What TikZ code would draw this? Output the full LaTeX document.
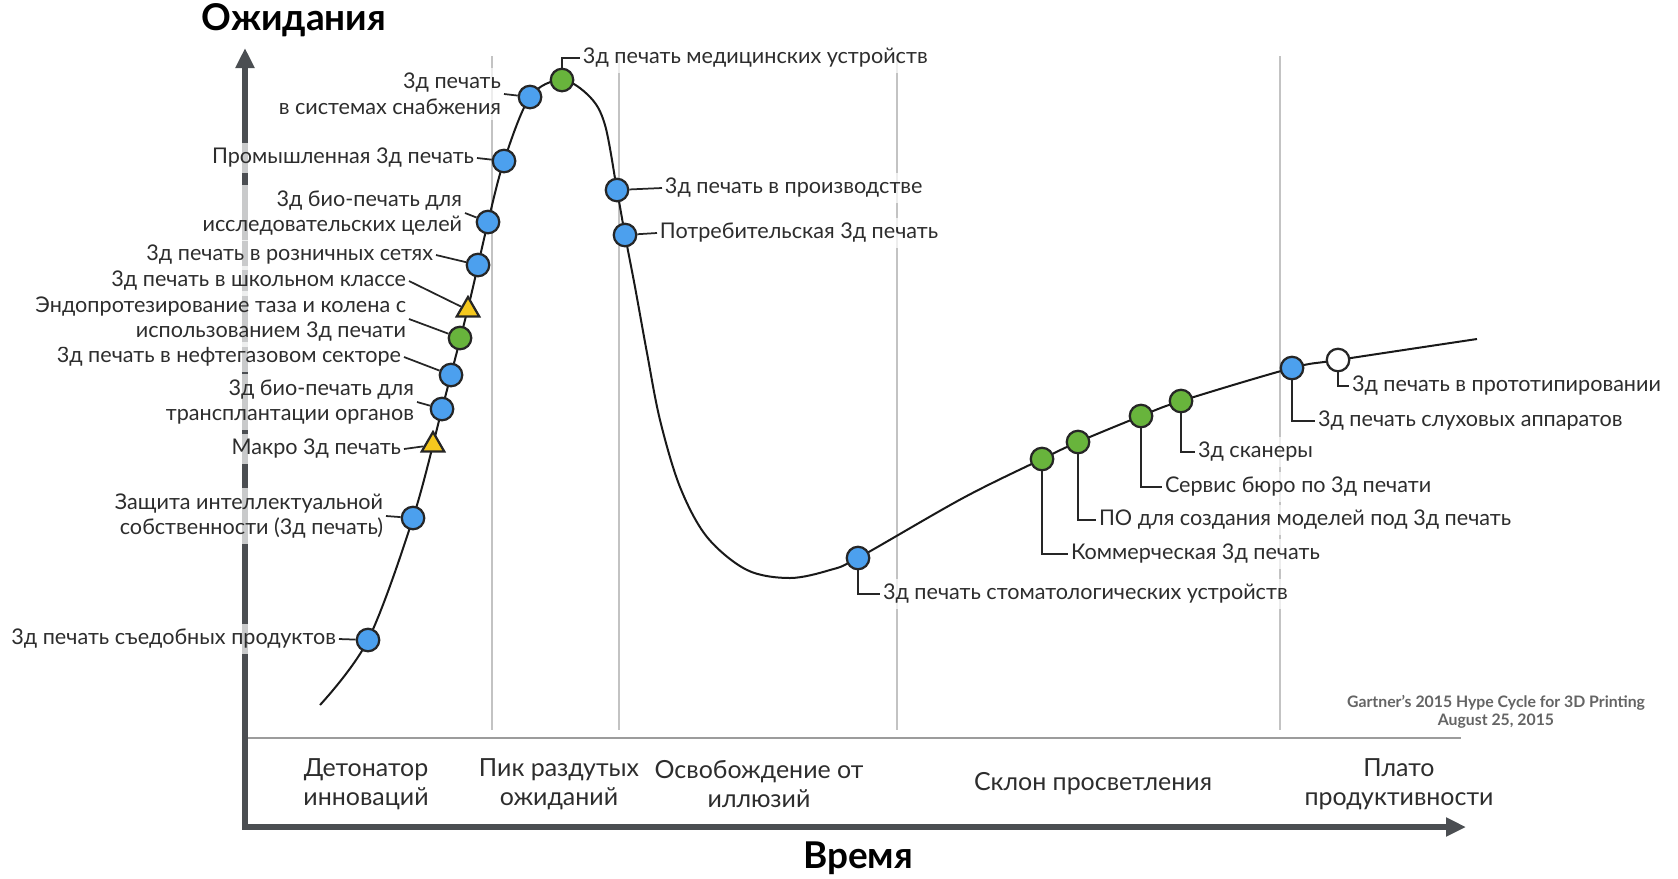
\documentclass[tikz,border=0pt]{standalone}
\usepackage{fontspec}
\setmainfont{Lato}
\usetikzlibrary{arrows.meta,shapes.geometric}

\definecolor{dotblue}{RGB}{76,160,238}
\definecolor{dotgreen}{RGB}{104,180,60}
\definecolor{triyellow}{RGB}{245,200,30}
\definecolor{axisgray}{RGB}{75,78,82}
\definecolor{divgray}{RGB}{195,195,195}
\definecolor{textgray}{RGB}{45,45,45}
\definecolor{srcgray}{RGB}{100,100,100}

\newcommand\lblfont{\fontsize{12.3}{14.6}\selectfont}
\newcommand\phasefont{\fontsize{14.2}{16.5}\selectfont}

\tikzset{
  axis/.style={axisgray, line width=1.2mm, line join=miter,
    {Triangle[width=3.6mm,length=4mm]}-{Triangle[width=3.6mm,length=4mm]}},
  divider/.style={divgray, line width=0.3mm},
  sepline/.style={divgray!80!black, line width=0.4mm},
  hype/.style={black!90, line width=0.4mm},
  dot/.style={circle, draw=black!85, line width=0.45mm, minimum size=4.5mm, inner sep=0pt},
  bdot/.style={dot, fill=dotblue},
  gdot/.style={dot, fill=dotgreen},
  wdot/.style={dot, fill=white},
  ydot/.style={regular polygon, regular polygon sides=3, draw=black!85, line width=0.45mm,
    fill=triyellow, minimum size=5.2mm, inner sep=0pt},
  lbl/.style={font=\lblfont, text=textgray, fill=white, fill opacity=0.7, text opacity=1,
    inner xsep=1.5pt, inner ysep=3pt},
  llbl/.style={lbl, anchor=east, align=right},
  rlbl/.style={lbl, anchor=west, align=left},
  lead/.style={black!85, line width=0.35mm},
  phase/.style={font=\phasefont, text=textgray, align=center},
  axtitle/.style={font=\fontsize{21}{24}\selectfont\bfseries, text=black},
  source/.style={font=\fontsize{9}{10.5}\selectfont\bfseries, text=srcgray, align=center}
}

\begin{document}
\begin{tikzpicture}[x=0.2mm, y=-0.2mm]
\useasboundingbox (0,0) rectangle (1678,878);

% phases
\foreach \xd in {492,619,897,1280}
  \draw[divider] (\xd,56) -- (\xd,730);
\draw[sepline] (248,738) -- (1461,738);
\draw[axis] (245,48) -- (245,827) -- (1466,827);

\node[axtitle] (ylab) at (294,20) {Ожидания};
\node[axtitle] (xlab) at (858,858) {Время};

\node[phase] (p1) at (366,784) {Детонатор\\инноваций};
\node[phase] (p2) at (559,784) {Пик раздутых\\ожиданий};
\node[phase] (p3) at (759,784) {Освобождение от\\иллюзий};
\node[phase] (p4) at (1093,784) {Склон просветления};
\node[phase] (p5) at (1399,784) {Плато\\продуктивности};

\node[source] (src) at (1496,712) {Gartner's 2015 Hype Cycle for 3D Printing\\August 25, 2015};

% the curve
\draw[hype] plot[smooth, tension=0.55] coordinates {
  (320,705) (368,640) (413,518) (442,409) (468,308) (488,222) (504,161)
  (530,97) (562,80) (590,97) (605,125) (617,190) (625,235) (635,287)
  (647,353) (660,420) (680,487) (707,537) (747,570) (790,578) (830,570)
  (858,558) (963,498) (1042,459) (1078,442) (1141,416) (1181,401)
  (1292,368) (1338,360) (1477,339)};

% markers
\node[bdot] (m1) at (368,640) {};
\node[bdot] (m2) at (413,518) {};
\node[ydot] (m3) at (433,445) {};
\node[bdot] (m4) at (442,409) {};
\node[bdot] (m5) at (451,375) {};
\node[gdot] (m6) at (460,338) {};
\node[ydot] (m7) at (468,310) {};
\node[bdot] (m8) at (478,265) {};
\node[bdot] (m9) at (488,222) {};
\node[bdot] (m10) at (504,161) {};
\node[bdot] (m11) at (530,97) {};
\node[gdot] (m12) at (562,80) {};
\node[bdot] (m13) at (617,190) {};
\node[bdot] (m14) at (625,235) {};
\node[bdot] (m15) at (858,558) {};
\node[gdot] (m16) at (1042,459) {};
\node[gdot] (m17) at (1078,442) {};
\node[gdot] (m18) at (1141,416) {};
\node[gdot] (m19) at (1181,401) {};
\node[bdot] (m20) at (1292,368) {};
\node[wdot] (m21) at (1338,360) {};

% labels
\node[llbl] (l1) at (339,639) {3д печать съедобных продуктов};
\node[llbl] (l2) at (386,516) {Защита интеллектуальной\\собственности (3д печать)};
\node[llbl] (l3) at (404,449) {Макро 3д печать};
\node[llbl] (l4) at (417,402) {3д био-печать для\\трансплантации органов};
\node[llbl] (l5) at (404,357) {3д печать в нефтегазовом секторе};
\node[llbl] (l6) at (409,319) {Эндопротезирование таза и колена с\\использованием 3д печати};
\node[llbl] (l7) at (409,281) {3д печать в школьном классе};
\node[llbl] (l8) at (436,255) {3д печать в розничных сетях};
\node[llbl] (l9) at (465,213) {3д био-печать для\\исследовательских целей};
\node[llbl] (l10) at (477,158) {Промышленная 3д печать};
\node[llbl] (l11) at (504,94) {3д печать\\в системах снабжения};

\node[rlbl] (r12) at (580,58) {3д печать медицинских устройств};
\node[rlbl] (r13) at (662,188) {3д печать в производстве};
\node[rlbl] (r14) at (657,233) {Потребительская 3д печать};
\node[rlbl] (r15) at (880,594) {3д печать стоматологических устройств};
\node[rlbl] (r16) at (1068,554) {Коммерческая 3д печать};
\node[rlbl] (r17) at (1096,520) {ПО для создания моделей под 3д печать};
\node[rlbl] (r18) at (1162,487) {Сервис бюро по 3д печати};
\node[rlbl] (r19) at (1195,452) {3д сканеры};
\node[rlbl] (r20) at (1315,421) {3д печать слуховых аппаратов};
\node[rlbl] (r21) at (1349,386) {3д печать в прототипировании};

% leads
\foreach \i in {1,...,11}
  \draw[lead] (l\i.east) -- (m\i);
\draw[lead] (m13) -- (r13.west);
\draw[lead] (m14) -- (r14.west);
\foreach \i in {12,15,16,17,18,19,20,21}
  \draw[lead] (m\i) |- (r\i);
\end{tikzpicture}
\end{document}
